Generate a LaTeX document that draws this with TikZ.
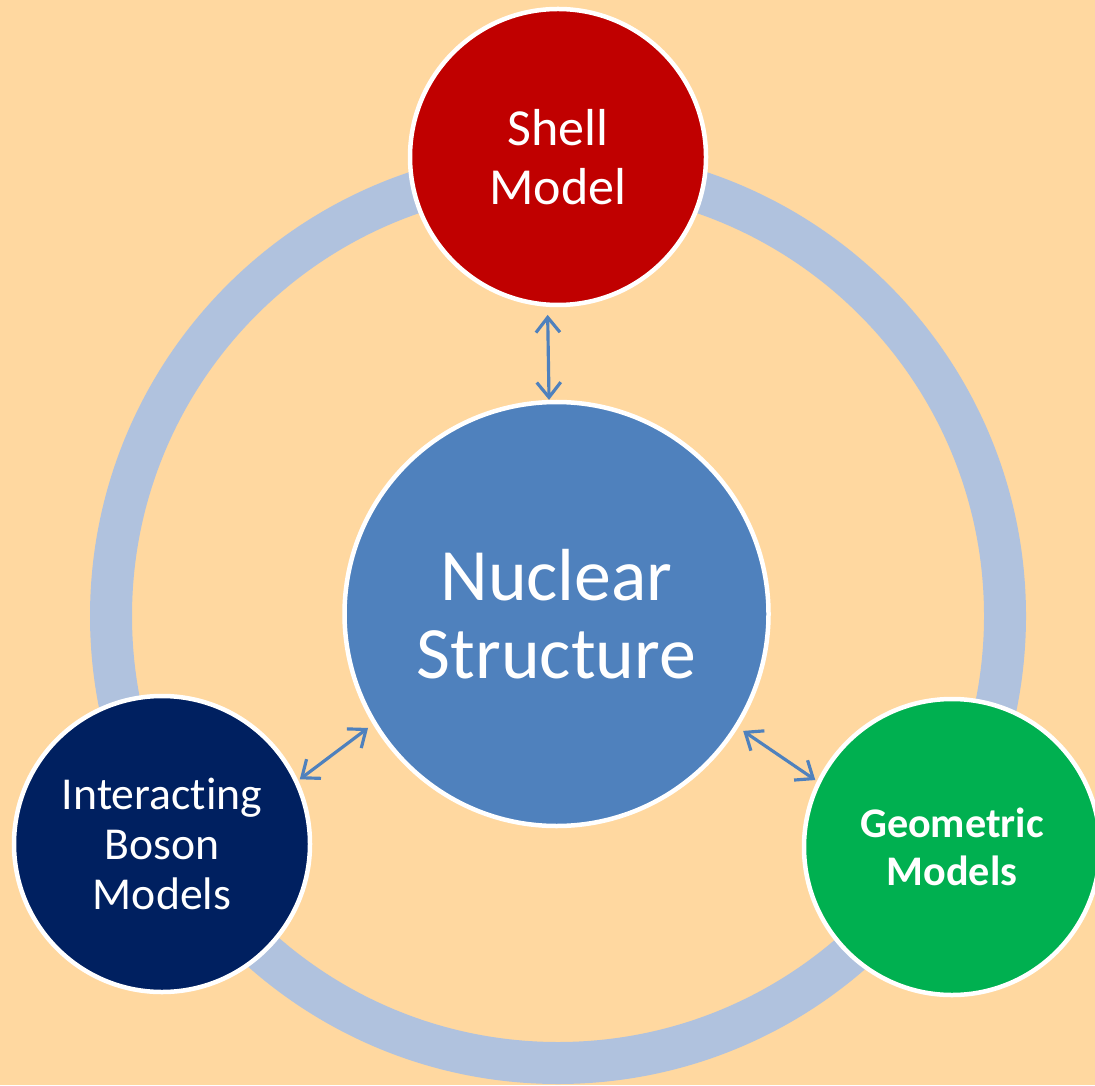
\documentclass[tikz,border=0pt]{standalone}
\usepackage{fontspec}
\setmainfont{Carlito}[Ligatures=NoCommon]
\usepackage{xcolor}
\usetikzlibrary{arrows.meta}

\definecolor{paper}{HTML}{FFD8A0}
\definecolor{ring}{HTML}{B0C2DE}
\definecolor{shellred}{HTML}{C00000}
\definecolor{nucblue}{HTML}{4F81BD}
\definecolor{ibmnavy}{HTML}{002060}
\definecolor{geomgreen}{HTML}{00B050}

\tikzset{
  model/.style={circle,draw=white,line width=0.045cm,inner sep=0pt,
    minimum size=2.96cm,text=white,align=center},
  link/.style={draw=nucblue,line width=0.9pt,
    {Straight Barb[length=0.15cm,width=0.24cm]}-{Straight Barb[length=0.15cm,width=0.24cm]}}
}

\begin{document}
\begin{tikzpicture}
  \useasboundingbox (0,0) rectangle (10.95,10.85);
  \fill[paper] (0,0) rectangle (10.95,10.85);

  % the loop behind the models
  \draw[ring,line width=0.42cm] (5.58,4.69) circle (4.47);

  \node (nuc) at (5.565,4.71) [model,fill=nucblue,minimum size=4.24cm,
    font=\fontsize{21}{22}\selectfont] {Nuclear\\Structure};
  \node (shell) at (5.58,9.28) [model,fill=shellred,
    font=\fontsize{14.8}{17}\selectfont] {Shell\\Model};
  \node (ibm) at (1.62,2.41) [model,fill=ibmnavy,
    font=\fontsize{13}{14.2}\selectfont] {Interacting\\Boson\\Models};
  \node (geom) at (9.52,2.38) [model,fill=geomgreen,
    font=\fontsize{12}{13.5}\selectfont\bfseries] {Geometric\\Models};

  \draw[link,shorten <=0.08cm] (shell.-94) -- (nuc.92);
  \draw[link,shorten <=0.02cm,shorten >=0.06cm] (ibm.25) -- (nuc.211);
  \draw[link,shorten <=0.06cm,shorten >=0.02cm] (nuc.328) -- (geom.154);
\end{tikzpicture}
\end{document}
